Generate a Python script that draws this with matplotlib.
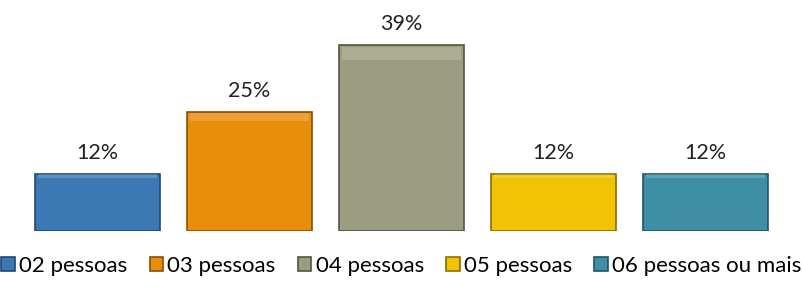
import matplotlib
matplotlib.use("Agg")
import matplotlib.pyplot as plt
import numpy as np

categorias = ['02 pessoas', '03 pessoas', '04 pessoas', '05 pessoas', '06 pessoas ou mais']
valores = [12, 25, 39, 12, 12]
rotulos = ['12%', '25%', '39%', '12%', '12%']
cores = ['#3b78b4', '#e88d0c', '#9c9c80', '#f2c204', '#3e8fa6']
bordas = ['#1f4a70', '#8a4e05', '#55553f', '#8a6d00', '#1f5566']

plt.rcParams['font.family'] = ['Lato', 'DejaVu Sans']

fig = plt.figure(figsize=(8.03, 2.96), dpi=100)
ax = fig.add_axes([0.027, 0.22, 0.946, 0.725])

x = np.arange(len(valores))
barras = ax.bar(x, valores, 0.82, color=cores, edgecolor=bordas, linewidth=1.2,
                label=categorias)
# faixa clara no topo, imitando o bisel
for xi, v, c in zip(x, valores, cores):
    ax.bar(xi, v * 0.07, 0.78, bottom=v * 0.92, color='white', alpha=0.18, linewidth=0)

ax.bar_label(barras, labels=rotulos, padding=8, fontsize=15.5, color='#222222')

ax.set_xlim(-0.5, 4.5)
ax.set_ylim(0, 45)
ax.axis('off')

fig.legend(barras, categorias, loc='lower center', bbox_to_anchor=(0.5, 0.0),
           ncol=5, frameon=False, fontsize=16, handlelength=0.6, handleheight=0.6,
           handletextpad=0.2, columnspacing=1.0)

fig.savefig('out.png', dpi=100)
